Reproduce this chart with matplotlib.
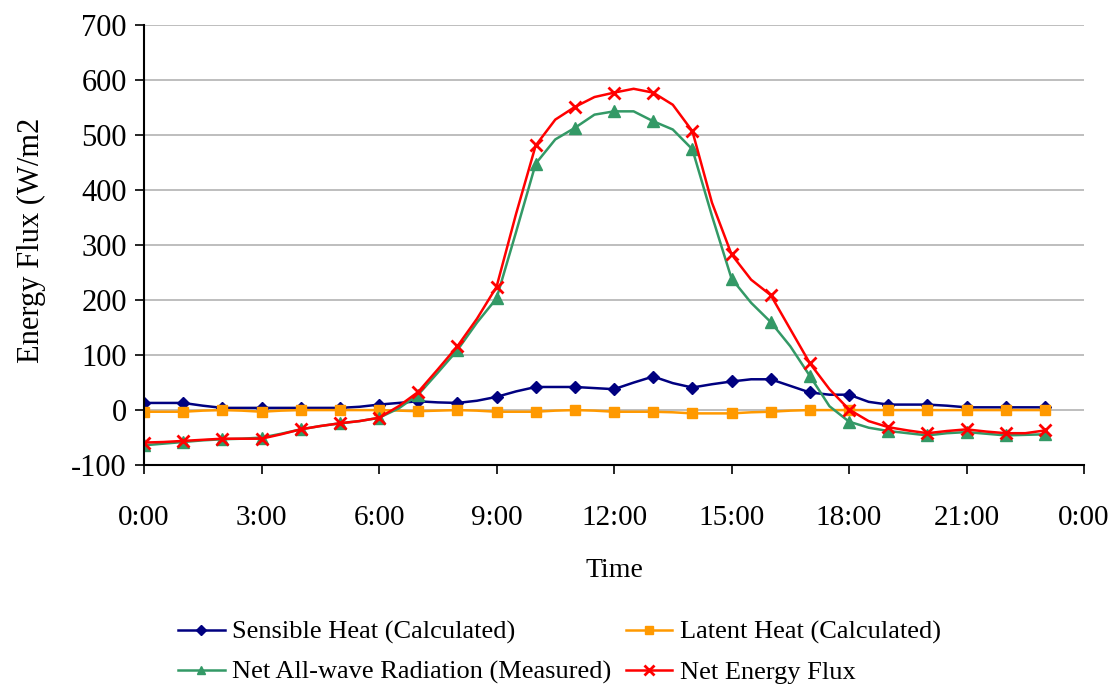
import matplotlib.pyplot as plt
import numpy as np

# half-hourly values (0:00 .. 23:00), markers drawn every hour
hours = np.arange(0, 23.01, 0.5)

sensible = [13, 13, 13, 8, 4, 4, 4, 4, 4, 4, 4, 6, 10, 13, 16, 14, 13, 17, 24, 34,
            42, 42, 42, 40, 38, 50, 61, 49, 41, 47, 52, 56, 56, 44, 32, 28, 28, 15,
            10, 10, 10, 8, 5, 5, 5, 5, 5]
latent = [-3, -3, -3, -1, 0, -1, -3, -1, 0, 0, 0, 0, 0, -1, -2, -1, 0, -1, -3, -3,
          -3, -1, 0, -1, -3, -3, -3, -4, -6, -6, -6, -4, -3, -1, 0, 0, 0, 0,
          0, 0, 0, 0, 0, 0, 0, 0, 0]
net_rad = [-64, -61, -58, -55, -53, -52, -50, -43, -35, -29, -24, -20, -14, 3, 28, 68,
           109, 159, 203, 324, 448, 492, 513, 537, 543, 543, 525, 510, 474, 353, 239,
           195, 160, 116, 62, 7, -21, -32, -38, -42, -46, -42, -40, -43, -46, -45, -44]
net_flux = [-59, -58, -56, -54, -52, -52, -52, -44, -35, -29, -24, -20, -14, 7, 33, 74,
            116, 166, 224, 357, 481, 528, 551, 569, 577, 584, 577, 555, 507, 377, 283,
            237, 209, 147, 85, 38, 1, -20, -31, -37, -42, -38, -35, -39, -42, -42, -37]

xtick_pos = [0, 3, 6, 9, 12, 15, 18, 21, 24]
xtick_labels = ["0:00", "3:00", "6:00", "9:00", "12:00", "15:00", "18:00", "21:00", "0:00"]

plt.rcParams['font.family'] = ['Liberation Serif', 'DejaVu Serif']
plt.rcParams['axes.unicode_minus'] = False

fig = plt.figure(figsize=(11.13, 6.86), dpi=100)
ax = fig.add_axes([0.1294, 0.322, 0.8446, 0.6416])

l1, = ax.plot(hours, sensible, color='#000080', lw=1.8, marker='D', ms=6.5, markevery=2,
              label='Sensible Heat (Calculated)')
l2, = ax.plot(hours, latent, color='#FF9900', lw=1.8, marker='s', ms=7.5, markevery=2,
              label='Latent Heat (Calculated)')
l3, = ax.plot(hours, net_rad, color='#339966', lw=1.8, marker='^', ms=8, markevery=2,
              label='Net All-wave Radiation (Measured)')
l4, = ax.plot(hours, net_flux, color='#FF0000', lw=1.8, marker='x', ms=9, mew=2, markevery=2,
              label='Net Energy Flux')

ax.set_xlim(0, 24)
ax.set_ylim(-100, 700)
ax.set_yticks(range(-100, 701, 100))
ax.set_xticks(xtick_pos)
ax.set_xticklabels(xtick_labels)
ax.yaxis.grid(True, color='#b3b3b3', lw=1.2)
ax.set_axisbelow(True)
for s in ['top', 'right']:
    ax.spines[s].set_visible(False)
ax.spines['left'].set_linewidth(1.5)
ax.spines['bottom'].set_linewidth(1.5)
ax.tick_params(axis='both', direction='out', length=6.5, width=1.2)
ax.tick_params(axis='y', labelsize=22, pad=6)
ax.tick_params(axis='x', labelsize=21, pad=22)

ax.set_xlabel('Time', fontsize=20, labelpad=20)
ax.set_ylabel('Energy Flux (W/m2', fontsize=22)
ax.yaxis.set_label_coords(-0.104, 0.51)

fig.legend([l1, l3, l2, l4], [l.get_label() for l in [l1, l3, l2, l4]],
           loc='center', bbox_to_anchor=(0.503, 0.049), ncol=2, frameon=False,
           fontsize=19, handlelength=1.75, columnspacing=0.55, handletextpad=0.3,
           labelspacing=0.6, markerscale=0.75)

fig.savefig('out.png', dpi=100)
